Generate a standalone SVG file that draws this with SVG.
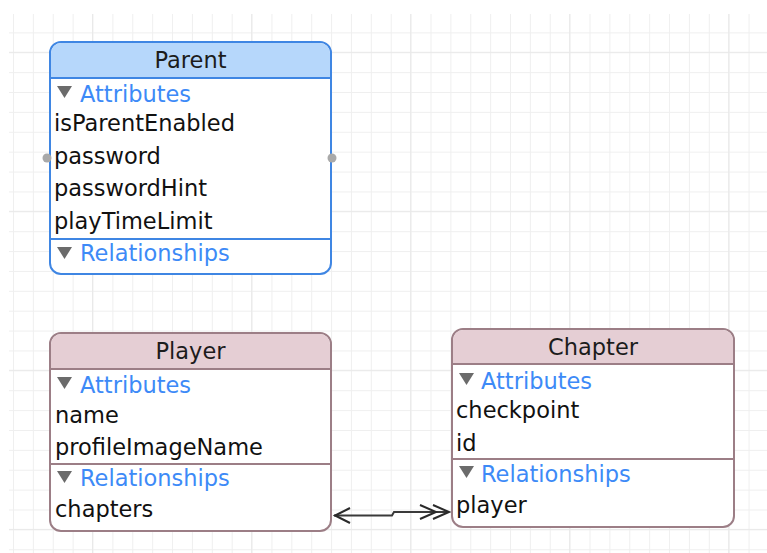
<svg xmlns="http://www.w3.org/2000/svg" width="767" height="553" viewBox="0 0 767 553">
<style>
  text { font-family: "DejaVu Sans", "Liberation Sans", sans-serif; font-size: 22.5px; }
  .title { fill: #1c1c1c; text-anchor: middle; }
  .sec { fill: #3d8af7; }
  .item { fill: #111111; }
  .tri { fill: #6b6b6b; }
  .blueBox { fill: #ffffff; stroke: #3f86e3; stroke-width: 2; }
  .blueHead { fill: #b6d7fb; }
  .blueLine { stroke: #3f86e3; stroke-width: 2; }
  .roseBox { fill: #ffffff; stroke: #9c7e86; stroke-width: 2; }
  .roseHead { fill: #e5ced4; }
  .roseLine { stroke: #9c7e86; stroke-width: 2; }
  .conn { fill: none; stroke: #3a3a3a; stroke-width: 2; }
  .arrow { fill: none; stroke: #2a2a2a; stroke-width: 2; }
  .dot { fill: #a9a9a9; }
</style>
<defs>
  <pattern id="grid" patternUnits="userSpaceOnUse" x="13" y="12.5" width="19.88" height="19.88">
    <path d="M0.5 0 V19.88 M0 0.5 H19.88" stroke="#efefef" stroke-width="1" fill="none"/>
  </pattern>
</defs>
<rect width="767" height="553" fill="#ffffff"/>
<rect x="9" y="14" width="758" height="539" fill="url(#grid)"/>
<path d="M92.5 14 V553 M251.6 14 V553 M410.6 14 V553 M569.6 14 V553 M728.7 14 V553 M9 52.3 H767 M9 211.3 H767 M9 370.3 H767 M9 529.4 H767" stroke="#e9e9e9" stroke-width="1" fill="none"/>

<g id="connectors">
  <polyline class="conn" points="334,515.5 392,515.5 394,512 449,512"/>
  <path class="arrow" d="M350 508 L335 515.5 L350 523"/>
  <path class="arrow" d="M420 505 L436 512 L420 519"/>
  <path class="arrow" d="M433 505 L449 512 L433 519"/>
</g>

<g id="parent">
  <rect class="blueBox" x="50" y="42" width="281" height="232" rx="11"/>
  <path class="blueHead" d="M51 77 V53 A10 10 0 0 1 61 43 H320 A10 10 0 0 1 330 53 V77 Z"/>
  <line class="blueLine" x1="50" y1="78" x2="331" y2="78"/>
  <line class="blueLine" x1="50" y1="239" x2="331" y2="239"/>
  <text class="title" x="190.5" y="68">Parent</text>
  <path class="tri" d="M57 86 H72 L64.5 98 Z"/>
  <text class="sec" x="80" y="102">Attributes</text>
  <text class="item" x="54" y="131">isParentEnabled</text>
  <text class="item" x="54" y="164">password</text>
  <text class="item" x="54" y="196">passwordHint</text>
  <text class="item" x="54" y="229">playTimeLimit</text>
  <path class="tri" d="M57 247 H72 L64.5 259 Z"/>
  <text class="sec" x="80" y="261">Relationships</text>
  <circle class="dot" cx="47" cy="158" r="4.5"/>
  <circle class="dot" cx="332" cy="158" r="4.5"/>
</g>

<g id="player">
  <rect class="roseBox" x="50" y="333" width="281" height="198" rx="11"/>
  <path class="roseHead" d="M51 368 V344 A10 10 0 0 1 61 334 H320 A10 10 0 0 1 330 344 V368 Z"/>
  <line class="roseLine" x1="50" y1="369" x2="331" y2="369"/>
  <line class="roseLine" x1="50" y1="464" x2="331" y2="464"/>
  <text class="title" x="190.5" y="359">Player</text>
  <path class="tri" d="M57 377 H72 L64.5 389 Z"/>
  <text class="sec" x="80" y="393">Attributes</text>
  <text class="item" x="55" y="423">name</text>
  <text class="item" x="55" y="455">profileImageName</text>
  <path class="tri" d="M57 471 H72 L64.5 483 Z"/>
  <text class="sec" x="80" y="486">Relationships</text>
  <text class="item" x="55" y="517">chapters</text>
</g>

<g id="chapter">
  <rect class="roseBox" x="452" y="329" width="282" height="198" rx="11"/>
  <path class="roseHead" d="M453 363 V340 A10 10 0 0 1 463 330 H723 A10 10 0 0 1 733 340 V363 Z"/>
  <line class="roseLine" x1="452" y1="364" x2="734" y2="364"/>
  <line class="roseLine" x1="452" y1="459" x2="734" y2="459"/>
  <text class="title" x="593" y="355">Chapter</text>
  <path class="tri" d="M459 373 H474 L466.5 385 Z"/>
  <text class="sec" x="481" y="389">Attributes</text>
  <text class="item" x="456" y="418">checkpoint</text>
  <text class="item" x="456" y="451">id</text>
  <path class="tri" d="M459 466 H474 L466.5 478 Z"/>
  <text class="sec" x="481" y="482">Relationships</text>
  <text class="item" x="456" y="513">player</text>
</g>
</svg>
